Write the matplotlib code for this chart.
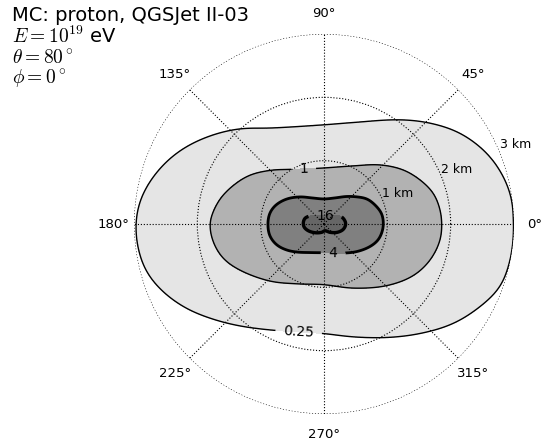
import numpy as np
import matplotlib
matplotlib.use('Agg')
import matplotlib.pyplot as plt

plt.rcParams['mathtext.fontset'] = 'cm'
plt.rcParams['font.family'] = ['DejaVu Sans']

# ---------------- data ----------------
title_lines = ["MC: proton, QGSJet II-03",
               r"$E=10^{19}$ eV",
               r"$\theta=80^\circ$",
               r"$\phi=0^\circ$"]

levels = [0.25, 1, 4, 16]
level_labels = ['0.25', '1', '4', '16']
fill_colors = ['#e5e5e5', '#b2b2b2', '#808080', '#666666']

# points (x, y in km; x towards 0 deg, y towards 90 deg)
c025_x = [2.99, 2.965, 2.832, 2.570, 2.148, 1.675, 1.201, 0.463, 0.0, -0.853, -1.327,
          -1.749, -2.169, -2.485, -2.749, -2.907, -2.970, -2.934, -2.801, -2.539,
          -2.169, -1.749, -1.327, -0.801, -0.411, -0.011, 0.463, 0.991, 1.517, 2.043,
          2.464, 2.780, 2.938, 2.990]
c025_y = [0.0, 0.379, 0.747, 1.117, 1.433, 1.591, 1.643, 1.600, 1.564, 1.512, 1.501,
          1.406, 1.221, 0.984, 0.668, 0.352, 0.0, -0.384, -0.754, -1.070,
          -1.332, -1.501, -1.607, -1.675, -1.701, -1.727, -1.780, -1.790, -1.727, -1.569,
          -1.303, -0.991, -0.569, -0.190]

c1_x = [1.859, 1.833, 1.727, 1.517, 1.253, 0.885, 0.463, -0.063, -0.537, -0.853, -1.216,
        -1.591, -1.749, -1.801, -1.749, -1.591, -1.327, -0.853, -0.431, -0.011, 0.463,
        0.991, 1.411, 1.675, 1.833]
c1_y = [0.0, 0.221, 0.485, 0.695, 0.853, 0.932, 0.916, 0.880, 0.861, 0.845, 0.750,
        0.458, 0.194, 0.0, -0.280, -0.542, -0.727, -0.900, -0.943, -0.956, -1.011,
        -0.972, -0.814, -0.569, -0.253]

c4_x = [0.937, 0.912, 0.821, 0.679, 0.521, 0.363, 0.174, 0.0, -0.190, -0.379, -0.585,
        -0.758, -0.853, -0.885, -0.853, -0.742, -0.585, -0.427, -0.221, 0.0, 0.300,
        0.521, 0.727, 0.853, 0.916]
c4_y = [0.0, 0.158, 0.284, 0.395, 0.427, 0.434, 0.411, 0.395, 0.411, 0.427, 0.395,
        0.300, 0.174, 0.0, -0.190, -0.332, -0.411, -0.442, -0.450, -0.453, -0.458,
        -0.434, -0.355, -0.253, -0.126]

c16_x = [0.343, 0.316, 0.253, 0.126, 0.0, -0.126, -0.221, -0.300, -0.327, -0.311,
         -0.248, -0.142, -0.036, 0.016, 0.095, 0.210, 0.305]
c16_y = [0.0, 0.074, 0.126, 0.134, 0.134, 0.134, 0.126, 0.090, 0.011, -0.052,
         -0.106, -0.137, -0.131, -0.106, -0.131, -0.131, -0.084]

center_value = 40.0
edge_value = 0.08

label_pos_deg = [256.6, 110, 288, 82]
label_pos_r = [1.71, 0.94, 0.47, 0.14]

theta_tick_deg = [0, 45, 90, 135, 180, 225, 270, 315]
theta_tick_labels = ['0°', '45°', '90°', '135°', '180°', '225°', '270°', '315°']
r_ticks = [1, 2, 3]
r_tick_labels = ['1 km', '2 km', '3 km']
r_max = 3.0


# ---------------- smooth closed curves -> r(theta) ----------------
def catmull_rom_closed(xs, ys, n=30):
    P = np.column_stack([xs, ys]).astype(float)
    N = len(P)
    out = []
    for i in range(N):
        p0, p1, p2, p3 = P[i - 1], P[i], P[(i + 1) % N], P[(i + 2) % N]
        t0 = 0.0
        t1 = t0 + np.linalg.norm(p1 - p0) ** 0.5
        t2 = t1 + np.linalg.norm(p2 - p1) ** 0.5
        t3 = t2 + np.linalg.norm(p3 - p2) ** 0.5
        t = np.linspace(t1, t2, n, endpoint=False)[:, None]
        A1 = (t1 - t) / (t1 - t0) * p0 + (t - t0) / (t1 - t0) * p1
        A2 = (t2 - t) / (t2 - t1) * p1 + (t - t1) / (t2 - t1) * p2
        A3 = (t3 - t) / (t3 - t2) * p2 + (t - t2) / (t3 - t2) * p3
        B1 = (t2 - t) / (t2 - t0) * A1 + (t - t0) / (t2 - t0) * A2
        B2 = (t3 - t) / (t3 - t1) * A2 + (t - t1) / (t3 - t1) * A3
        C = (t2 - t) / (t2 - t1) * B1 + (t - t1) / (t2 - t1) * B2
        out.append(C)
    return np.vstack(out)


def radius_of_theta(xs, ys, th, sigma_deg=2.5):
    C = catmull_rom_closed(xs, ys)
    ang = np.mod(np.arctan2(C[:, 1], C[:, 0]), 2 * np.pi)
    rad = np.hypot(C[:, 0], C[:, 1])
    order = np.argsort(ang)
    r = np.interp(th, ang[order], rad[order], period=2 * np.pi)
    # light circular smoothing in angle
    d = np.rad2deg(th[1] - th[0])
    k = np.arange(-int(4 * sigma_deg / d), int(4 * sigma_deg / d) + 1)
    w = np.exp(-0.5 * (k * d / sigma_deg) ** 2)
    w /= w.sum()
    rp = r[:-1]
    sm = np.zeros_like(rp)
    for kk, ww in zip(k, w):
        sm += ww * np.roll(rp, kk)
    return np.append(sm, sm[0])


th = np.linspace(0, 2 * np.pi, 1441)
rr = np.linspace(0, r_max, 801)
curves = [radius_of_theta(x, y, th) for x, y in
          ((c16_x, c16_y), (c4_x, c4_y), (c1_x, c1_y), (c025_x, c025_y))]
vals_log = np.log([center_value, 16, 4, 1, 0.25, edge_value])
Z = np.empty((len(rr), len(th)))
for j in range(len(th)):
    xp = [0.0, curves[0][j], curves[1][j], curves[2][j], curves[3][j], 3.4]
    Z[:, j] = np.exp(np.interp(rr, xp, vals_log))
TH, RR = np.meshgrid(th, rr)

# ---------------- plot ----------------
fig = plt.figure(figsize=(5.42, 4.41), dpi=100)
ax = fig.add_axes([0.2472, 0.0612, 0.7011, 0.8617], projection='polar')

ax.contourf(TH, RR, Z, levels=levels + [1e6], colors=fill_colors)
cs = ax.contour(TH, RR, Z, levels=levels, colors='k',
                linewidths=[1.0, 1.0, 2.0, 2.4])
ax.clabel(cs, fmt=dict(zip(levels, level_labels)), fontsize=10,
          inline=True, inline_spacing=8,
          manual=list(zip(np.deg2rad(label_pos_deg), label_pos_r)))

ax.set_ylim(0, r_max)
ax.set_xticks(np.deg2rad(theta_tick_deg))
ax.set_xticklabels([])
ax.set_yticks(r_ticks)
ax.set_yticklabels([])
ax.tick_params(length=0)
ax.grid(True, color='k', linestyle=':', linewidth=0.8)
ax.spines['polar'].set_visible(False)

for a, lab in zip(theta_tick_deg, theta_tick_labels):
    ax.text(np.deg2rad(a), 3.33, lab, ha='center', va='center',
            fontsize=9.5, clip_on=False)
for r, lab in zip(r_ticks, r_tick_labels):
    ax.text(np.deg2rad(22.5), r, lab, ha='left', va='bottom', fontsize=9)

baselines = [20.7, 43.3, 64.0, 84.0]
for s, b in zip(title_lines, baselines):
    fig.text(12 / 542, 1 - b / 441, s, ha='left', va='baseline', fontsize=14)

fig.savefig('out.png', dpi=100)
